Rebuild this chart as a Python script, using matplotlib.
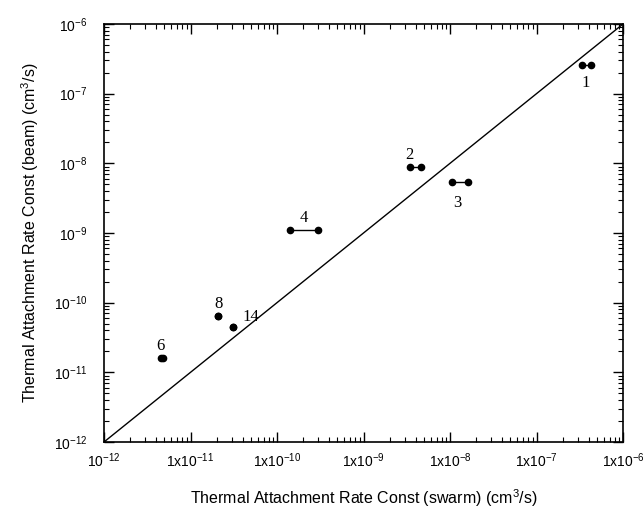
import matplotlib

matplotlib.use("Agg")
import matplotlib.pyplot as plt
from matplotlib.ticker import FixedLocator, LogLocator, NullFormatter

# swarm (x) and beam (y) thermal attachment rate constants, cm^3/s
labels = ["1", "2", "3", "4", "6", "8", "14"]
swarm_lo = [3.4e-7, 3.45e-9, 1.05e-8, 1.4e-10, 4.5e-12, 2.1e-11, 3.1e-11]
swarm_hi = [4.3e-7, 4.6e-9, 1.6e-8, 3.0e-10, 4.8e-12, 2.1e-11, 3.1e-11]
beam = [2.6e-7, 8.8e-9, 5.4e-9, 1.1e-9, 1.6e-11, 6.4e-11, 4.5e-11]
label_offsets = [(-1, -13), (-4, 9), (-2, -15), (0, 9), (-1, 9), (0, 9), (13, 7)]

x_ticks = [1e-12, 1e-11, 1e-10, 1e-9, 1e-8, 1e-7, 1e-6]
x_ticklabels = [r"$10^{-12}$", r"1x$10^{-11}$", r"1x$10^{-10}$", r"1x$10^{-9}$",
                r"1x$10^{-8}$", r"1x$10^{-7}$", r"1x$10^{-6}$"]
y_ticks = [1e-12, 1e-11, 1e-10, 1e-9, 1e-8, 1e-7, 1e-6]
y_ticklabels = [r"$10^{-12}$", r"$10^{-11}$", r"$10^{-10}$", r"$10^{-9}$",
                r"$10^{-8}$", r"$10^{-7}$", r"$10^{-6}$"]

plt.rcParams["font.family"] = ["Liberation Sans", "DejaVu Sans"]
plt.rcParams["mathtext.fontset"] = "custom"
plt.rcParams["mathtext.rm"] = "Liberation Sans"
plt.rcParams["mathtext.it"] = "Liberation Sans"

fig = plt.figure(figsize=(6.44, 5.11), dpi=100)
ax = fig.add_axes([104 / 644, 69 / 511, 519 / 644, 418 / 511])
ax.set_xscale("log")
ax.set_yscale("log")
ax.set_xlim(1e-12, 1e-6)
ax.set_ylim(1e-12, 1e-6)

ax.plot([1e-12, 1e-6], [1e-12, 1e-6], color="black", linewidth=1.0)

for lo, hi, y, lab, off in zip(swarm_lo, swarm_hi, beam, labels, label_offsets):
    ax.plot([lo, hi], [y, y], color="black", linewidth=1.0, marker="o",
            markersize=4.5)
    ax.annotate(lab, xy=((lo * hi) ** 0.5, y), xytext=off, textcoords="offset points",
                ha="center", va="center", fontsize=12, family="Liberation Serif")

ax.xaxis.set_major_locator(FixedLocator(x_ticks))
ax.set_xticklabels(x_ticklabels)
ax.yaxis.set_major_locator(FixedLocator(y_ticks))
ax.set_yticklabels(y_ticklabels)
for axis in (ax.xaxis, ax.yaxis):
    axis.set_minor_locator(LogLocator(base=10, subs=range(2, 10), numticks=20))
    axis.set_minor_formatter(NullFormatter())

ax.tick_params(which="both", direction="in", top=True, right=True, labelsize=10)
ax.tick_params(which="major", length=7, width=1.0)
ax.tick_params(axis="x", which="major", pad=7)
ax.tick_params(axis="y", which="major", pad=12)
ax.tick_params(which="minor", length=3.5, width=0.8)
for spine in ax.spines.values():
    spine.set_linewidth(1.2)

ax.set_xlabel(r"Thermal Attachment Rate Const (swarm) (cm$^3$/s)", fontsize=11.5,
              labelpad=12)
ax.set_ylabel(r"Thermal Attachment Rate Const (beam) (cm$^3$/s)", fontsize=11.5,
              labelpad=9)

fig.savefig("out.png", dpi=100)
